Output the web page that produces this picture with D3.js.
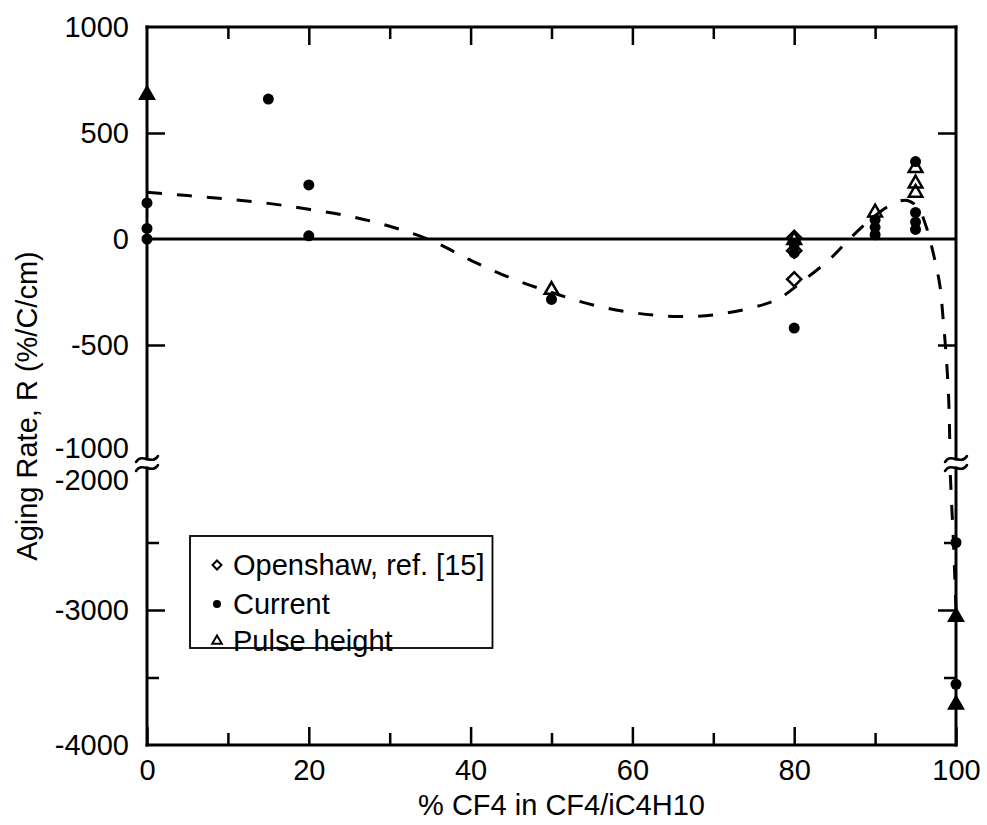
<!DOCTYPE html>
<html>
<head>
<meta charset="utf-8">
<script src="https://cdn.jsdelivr.net/npm/d3@7"></script>
<style>
  body { margin: 0; background: #fff; }
  text { font-family: "Liberation Sans", Arial, Helvetica, sans-serif; fill: #000; }
</style>
</head>
<body>
<div id="chart"></div>
<script>
// ---- data ----
const xLabels = [0, 20, 40, 60, 80, 100];
const xMinorTicks = [10, 30, 50, 70, 90];
const yTopLabels = [1000, 500, 0, -500, -1000];
const yTopTicks = [500, -500];
const yBotLabels = [-2000, -3000, -4000];
const yBotMajorTicks = [-3000];
const yBotMinorTicks = [-2500, -3500];

// Openshaw, ref. [15]  (open diamonds)
const openshaw = [[80, 5], [80, -55], [80, -190]];
// Current (filled circles)
const current = [
  [0, 170], [0, 50], [0, 0], [15, 660], [20, 255], [20, 15],
  [50, -285], [80, -25], [80, -65], [80, -420],
  [90, 90], [90, 55], [90, 20],
  [95, 365], [95, 125], [95, 80], [95, 45],
  [100, -2500], [100, -3550]
];
// Pulse height (open triangles)
const pulse = [
  [0, 680], [50, -240], [80, -5], [90, 125],
  [95, 335], [95, 262], [95, 218],
  [100, -3050], [100, -3700]
];
// dashed fit, upper part (above the break) and lower part
const fitUpper = [
  [0, 220], [5, 205], [10, 188], [15, 168], [20, 140], [25, 108], [30, 60],
  [35, -5], [40, -100], [45, -185], [50, -252], [55, -310], [60, -347],
  [65, -365], [70, -358], [75, -322], [78, -283], [81, -200], [84.4, -95],
  [87.1, 10], [90, 110], [92.5, 172], [94, 182], [95.3, 148], [96.3, 60],
  [97.3, -85], [98, -217], [98.4, -373], [98.8, -557], [99.1, -760], [99.25, -1000]
];
const fitLower = [
  [99.3, -2000], [99.45, -2200], [99.65, -2450], [99.85, -2750], [100, -3000]
];

const xTitle = "% CF4 in CF4/iC4H10";
const yTitle = "Aging Rate, R (%/C/cm)";
const legendItems = [
  { label: "Openshaw, ref. [15]", kind: "diamond" },
  { label: "Current", kind: "circle" },
  { label: "Pulse height", kind: "triangle" }
];

// ---- layout ----
const W = 987, H = 825;
const fontSize = 29;
const breakTop = 459, breakBot = 468;
const fmt = d => String(d);   // plain hyphen minus, as in the original

const svg = d3.select("#chart").append("svg")
  .attr("width", W).attr("height", H);

const x = d3.scaleLinear().domain([0, 100]).range([147, 956]);
const yTop = d3.scaleLinear().domain([-1000, 1000]).range([451, 27]);
const yBot = d3.scaleLinear().domain([-4000, -2000]).range([745, 475]);
const y = v => v >= -1000 ? yTop(v) : yBot(v);

const x0 = x(0), x1 = x(100), yT = yTop(1000), yB = yBot(-4000);

// tick helper: draws an axis and styles it
function ticks(axis, transform) {
  const g = svg.append("g").attr("transform", transform).call(axis);
  g.select(".domain").remove();
  g.selectAll(".tick line").attr("stroke", "#000").attr("stroke-width", 2.5);
  g.selectAll("text").attr("font-size", fontSize)
    .attr("font-family", "'Liberation Sans', Arial, sans-serif").attr("fill", "#000");
  return g;
}

// bottom axis
ticks(d3.axisBottom(x).tickValues(xLabels).tickSizeInner(-18).tickSizeOuter(0).tickPadding(14).tickFormat(fmt),
  `translate(0,${yB})`);
ticks(d3.axisBottom(x).tickValues(xMinorTicks).tickSizeInner(-12).tickSizeOuter(0).tickFormat(""),
  `translate(0,${yB})`);
// top axis
ticks(d3.axisTop(x).tickValues(xLabels.slice(1, -1)).tickSizeInner(-18).tickSizeOuter(0).tickFormat(""),
  `translate(0,${yT})`);
ticks(d3.axisTop(x).tickValues(xMinorTicks).tickSizeInner(-12).tickSizeOuter(0).tickFormat(""),
  `translate(0,${yT})`);

// left axis labels + ticks (two segments)
const topLab = ticks(d3.axisLeft(yTop).tickValues(yTopLabels).tickSize(0).tickPadding(18).tickFormat(fmt),
  `translate(${x0},0)`);
const botLab = ticks(d3.axisLeft(yBot).tickValues(yBotLabels).tickSize(0).tickPadding(18).tickFormat(fmt),
  `translate(${x0},0)`);
// the two labels next to the break sit a little apart
topLab.selectAll(".tick text").filter(d => d === -1000).attr("y", -3);
botLab.selectAll(".tick text").filter(d => d === -2000).attr("y", 5);

ticks(d3.axisLeft(yTop).tickValues(yTopTicks).tickSizeInner(-18).tickSizeOuter(0).tickFormat(""),
  `translate(${x0},0)`);
ticks(d3.axisLeft(yBot).tickValues(yBotMajorTicks).tickSizeInner(-18).tickSizeOuter(0).tickFormat(""),
  `translate(${x0},0)`);
ticks(d3.axisLeft(yBot).tickValues(yBotMinorTicks).tickSizeInner(-12).tickSizeOuter(0).tickFormat(""),
  `translate(${x0},0)`);
// right axis ticks
ticks(d3.axisRight(yTop).tickValues(yTopTicks).tickSizeInner(-18).tickSizeOuter(0).tickFormat(""),
  `translate(${x1},0)`);
ticks(d3.axisRight(yBot).tickValues(yBotMajorTicks).tickSizeInner(-18).tickSizeOuter(0).tickFormat(""),
  `translate(${x1},0)`);
ticks(d3.axisRight(yBot).tickValues(yBotMinorTicks).tickSizeInner(-12).tickSizeOuter(0).tickFormat(""),
  `translate(${x1},0)`);

// frame with broken vertical axes
const frame = svg.append("g").attr("stroke", "#000").attr("stroke-width", 3).attr("fill", "none")
  .attr("stroke-linecap", "square");
frame.append("line").attr("x1", x0).attr("x2", x1).attr("y1", yT).attr("y2", yT);
frame.append("line").attr("x1", x0).attr("x2", x1).attr("y1", yB).attr("y2", yB);
[x0, x1].forEach(ax => {
  frame.append("line").attr("x1", ax).attr("x2", ax).attr("y1", yT).attr("y2", breakTop);
  frame.append("line").attr("x1", ax).attr("x2", ax).attr("y1", breakBot).attr("y2", yB);
  [breakTop, breakBot].forEach(by => {
    frame.append("path")
      .attr("stroke-width", 2.5).attr("stroke-linecap", "round")
      .attr("d", `M${ax - 11},${by + 3} C${ax - 5},${by - 7} ${ax + 5},${by + 7} ${ax + 11},${by - 3}`);
  });
});

// zero line
svg.append("line").attr("x1", x0).attr("x2", x1).attr("y1", y(0)).attr("y2", y(0))
  .attr("stroke", "#000").attr("stroke-width", 3);

// dashed fit
const line = d3.line().x(d => x(d[0])).y(d => y(d[1])).curve(d3.curveCatmullRom.alpha(0.5));
[fitUpper, fitLower].forEach(seg => {
  svg.append("path").datum(seg).attr("d", line)
    .attr("fill", "none").attr("stroke", "#000").attr("stroke-width", 3)
    .attr("stroke-dasharray", "15,15");
});

// markers
const triSym = d3.symbol().type(d3.symbolTriangle).size(80);
const diaSym = d3.symbol().type(d3.symbolSquare).size(100);

svg.append("g").selectAll("path").data(openshaw).join("path")
  .attr("d", diaSym)
  .attr("transform", d => `translate(${x(d[0])},${y(d[1])}) rotate(45)`)
  .attr("fill", "none").attr("stroke", "#000").attr("stroke-width", 2.5);

svg.append("g").selectAll("circle").data(current).join("circle")
  .attr("cx", d => x(d[0])).attr("cy", d => y(d[1])).attr("r", 5.5)
  .attr("fill", "#000");

// triangles sitting on the frame print solid in the scan
svg.append("g").selectAll("path").data(pulse).join("path")
  .attr("d", triSym)
  .attr("transform", d => `translate(${x(d[0])},${y(d[1])})`)
  .attr("fill", d => (d[0] === 0 || d[0] === 100) ? "#000" : "none")
  .attr("stroke", "#000").attr("stroke-width", 2.5);

// legend
const leg = svg.append("g");
const legBox = leg.append("rect").attr("x", 190).attr("y", 536).attr("height", 112)
  .attr("fill", "#fff").attr("stroke", "#000").attr("stroke-width", 1.8);
const rowY = [565, 604, 641];
let maxEnd = 0;
legendItems.forEach((it, i) => {
  const cy = rowY[i];
  if (it.kind === "diamond") {
    leg.append("path").attr("d", d3.symbol().type(d3.symbolSquare).size(40))
      .attr("transform", `translate(217,${cy}) rotate(45)`)
      .attr("fill", "none").attr("stroke", "#000").attr("stroke-width", 2);
  } else if (it.kind === "circle") {
    leg.append("circle").attr("cx", 217).attr("cy", cy).attr("r", 4).attr("fill", "#000");
  } else {
    leg.append("path").attr("d", d3.symbol().type(d3.symbolTriangle).size(40))
      .attr("transform", `translate(217,${cy})`)
      .attr("fill", "none").attr("stroke", "#000").attr("stroke-width", 2);
  }
  const t = leg.append("text").attr("x", 233).attr("y", cy).attr("dy", "0.35em")
    .attr("font-size", fontSize).text(it.label);
  maxEnd = Math.max(maxEnd, 233 + t.node().getComputedTextLength());
});
legBox.attr("width", maxEnd + 8 - 190);

// axis titles
svg.append("text").attr("x", (x0 + x1) / 2 + 10).attr("y", 805).attr("dy", "0.35em")
  .attr("text-anchor", "middle").attr("font-size", fontSize).text(xTitle);
svg.append("text").attr("transform", `translate(27,${(yT + yB) / 2 + 20}) rotate(-90)`)
  .attr("dy", "0.35em").attr("text-anchor", "middle").attr("font-size", fontSize).text(yTitle);
</script>
</body>
</html>
